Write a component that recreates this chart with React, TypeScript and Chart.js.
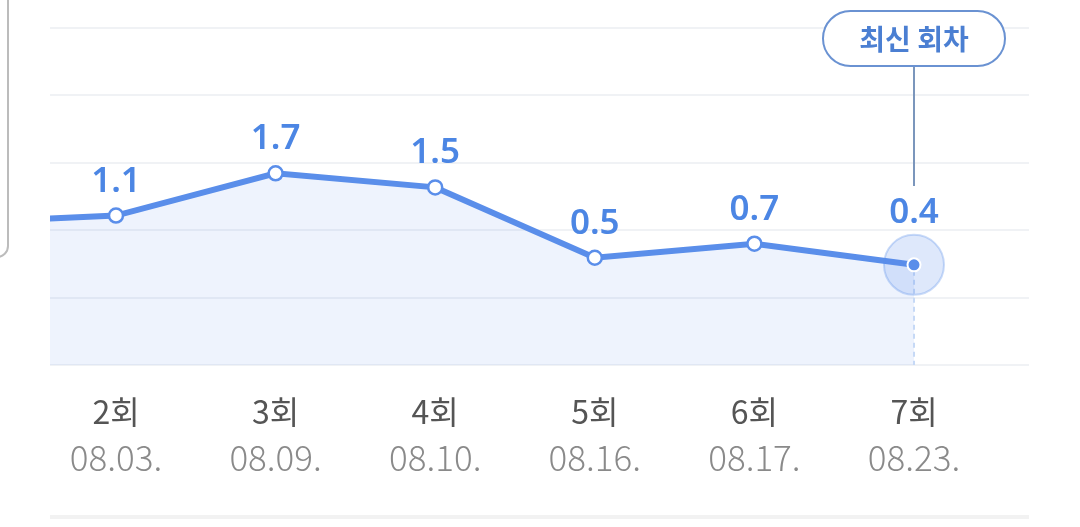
import React, { useEffect, useRef } from "react";
import { Chart, registerables } from "chart.js";

Chart.register(...registerables);

// ---- data ----
const rounds = ["1회", "2회", "3회", "4회", "5회", "6회", "7회"];
const dates = ["08.02.", "08.03.", "08.09.", "08.10.", "08.16.", "08.17.", "08.23."];
const values = [1.0, 1.1, 1.7, 1.5, 0.5, 0.7, 0.4];
const valueLabels = ["1.0", "1.1", "1.7", "1.5", "0.5", "0.7", "0.4"];
const latestLabel = "최신 회차";
const xMin = 0.5865;
const xMax = 6.7206;
const yMin = -1.023;
const yMax = 3.764;
const gridCount = 6;

const LINE = "#5a8eea";
const LABEL = "#4c86e4";

const overlay = {
  id: "overlay",
  afterDatasetsDraw(chart: any) {
    const { ctx, chartArea, scales } = chart;
    const meta = chart.getDatasetMeta(0);
    const last = values.length - 1;
    const lp = meta.data[last];
    ctx.save();
    // dashed line from latest point down
    ctx.setLineDash([5, 4]);
    ctx.strokeStyle = "#c6d9f6";
    ctx.lineWidth = 2;
    ctx.beginPath();
    ctx.moveTo(lp.x, lp.y + 6);
    ctx.lineTo(lp.x, chartArea.bottom);
    ctx.stroke();
    ctx.setLineDash([]);
    // halo
    ctx.beginPath();
    ctx.arc(lp.x, lp.y, 30, 0, Math.PI * 2);
    ctx.fillStyle = "rgba(90,142,234,0.2)";
    ctx.fill();
    ctx.lineWidth = 2;
    ctx.strokeStyle = "rgba(90,142,234,0.32)";
    ctx.stroke();
    // inner dot
    ctx.beginPath();
    ctx.arc(lp.x, lp.y, 6.5, 0, Math.PI * 2);
    ctx.fillStyle = LINE;
    ctx.fill();
    ctx.lineWidth = 2;
    ctx.strokeStyle = "#ffffff";
    ctx.stroke();

    // value labels
    ctx.fillStyle = LABEL;
    ctx.font = "600 35px 'Noto Sans', sans-serif";
    ctx.textAlign = "center";
    ctx.textBaseline = "alphabetic";
    for (let i = 1; i < values.length; i++) {
      const p = meta.data[i];
      const off = i === last ? 42 : 24;
      ctx.fillText(valueLabels[i], p.x, p.y - off);
    }

    // connector + pill
    const cx = lp.x;
    ctx.strokeStyle = "#7b96bc";
    ctx.lineWidth = 2;
    ctx.beginPath();
    ctx.moveTo(cx, 66);
    ctx.lineTo(cx, 186);
    ctx.stroke();
    const pw = 182, ph = 55, px = cx - pw / 2, py = 11;
    ctx.beginPath();
    ctx.roundRect(px, py, pw, ph, ph / 2);
    ctx.fillStyle = "#ffffff";
    ctx.fill();
    ctx.strokeStyle = "#6a92d2";
    ctx.lineWidth = 2;
    ctx.stroke();
    ctx.fillStyle = "#4b7fd2";
    ctx.font = "700 28px 'Noto Sans CJK KR', sans-serif";
    ctx.textBaseline = "middle";
    ctx.fillText(latestLabel, cx, py + ph / 2 + 1);

    // x labels
    const xs = scales.x;
    for (let i = 1; i < rounds.length; i++) {
      const x = xs.getPixelForValue(i);
      ctx.fillStyle = "#555555";
      ctx.font = "400 32px 'Noto Sans CJK KR', sans-serif";
      ctx.fillText(rounds[i], x, 412);
      ctx.fillStyle = "#8a8a8a";
      ctx.font = "300 35px 'Noto Sans CJK KR', sans-serif";
      ctx.fillText(dates[i], x, 458);
    }

    // bottom separator
    ctx.fillStyle = "#f2f2f2";
    ctx.fillRect(chartArea.left, 515, chartArea.right - chartArea.left, 4);
    ctx.restore();
  },
};

export default function App() {
  const ref = useRef<HTMLCanvasElement>(null);
  useEffect(() => {
    const chart = new Chart(ref.current!, {
      type: "line",
      data: {
        datasets: [
          {
            data: values.map((v, i) => ({ x: i, y: v })),
            borderColor: LINE,
            borderWidth: 6,
            backgroundColor: "rgba(90,142,234,0.1)",
            fill: "start",
            tension: 0,
            pointRadius: values.map((_, i) => (i === values.length - 1 ? 0 : 7)),
            pointBorderWidth: 2.5,
            pointBackgroundColor: "#ffffff",
            pointBorderColor: LINE,
            clip: { left: 0, right: false, top: false, bottom: false } as any,
          },
        ],
      },
      options: {
        animation: false,
        responsive: true,
        maintainAspectRatio: false,
        events: [],
        layout: { padding: { left: 50, right: 51, top: 28, bottom: 162 } },
        plugins: { legend: { display: false }, tooltip: { enabled: false } },
        scales: {
          x: { type: "linear", min: xMin, max: xMax, display: false },
          y: {
            type: "linear",
            min: yMin,
            max: yMax,
            afterBuildTicks: (scale: any) => {
              const t = [];
              for (let k = 0; k < gridCount; k++) {
                t.push({ value: yMin + ((yMax - yMin) * k) / (gridCount - 1) });
              }
              scale.ticks = t;
            },
            ticks: { display: false },
            grid: { color: "#f0f2f5", lineWidth: 2, drawTicks: false },
            border: { display: false },
          },
        },
      },
      plugins: [overlay],
    });
    return () => chart.destroy();
  }, []);
  return (
    <div style={{ position: "fixed", left: 0, top: 0, width: 1080, height: 527, background: "#fff", overflow: "hidden" }}>
      <div
        style={{
          position: "absolute",
          left: -20,
          top: -12,
          width: 29,
          height: 270,
          border: "2px solid #bcbcbc",
          borderRadius: 12,
          boxSizing: "border-box",
        }}
      />
      <canvas ref={ref} />
    </div>
  );
}
